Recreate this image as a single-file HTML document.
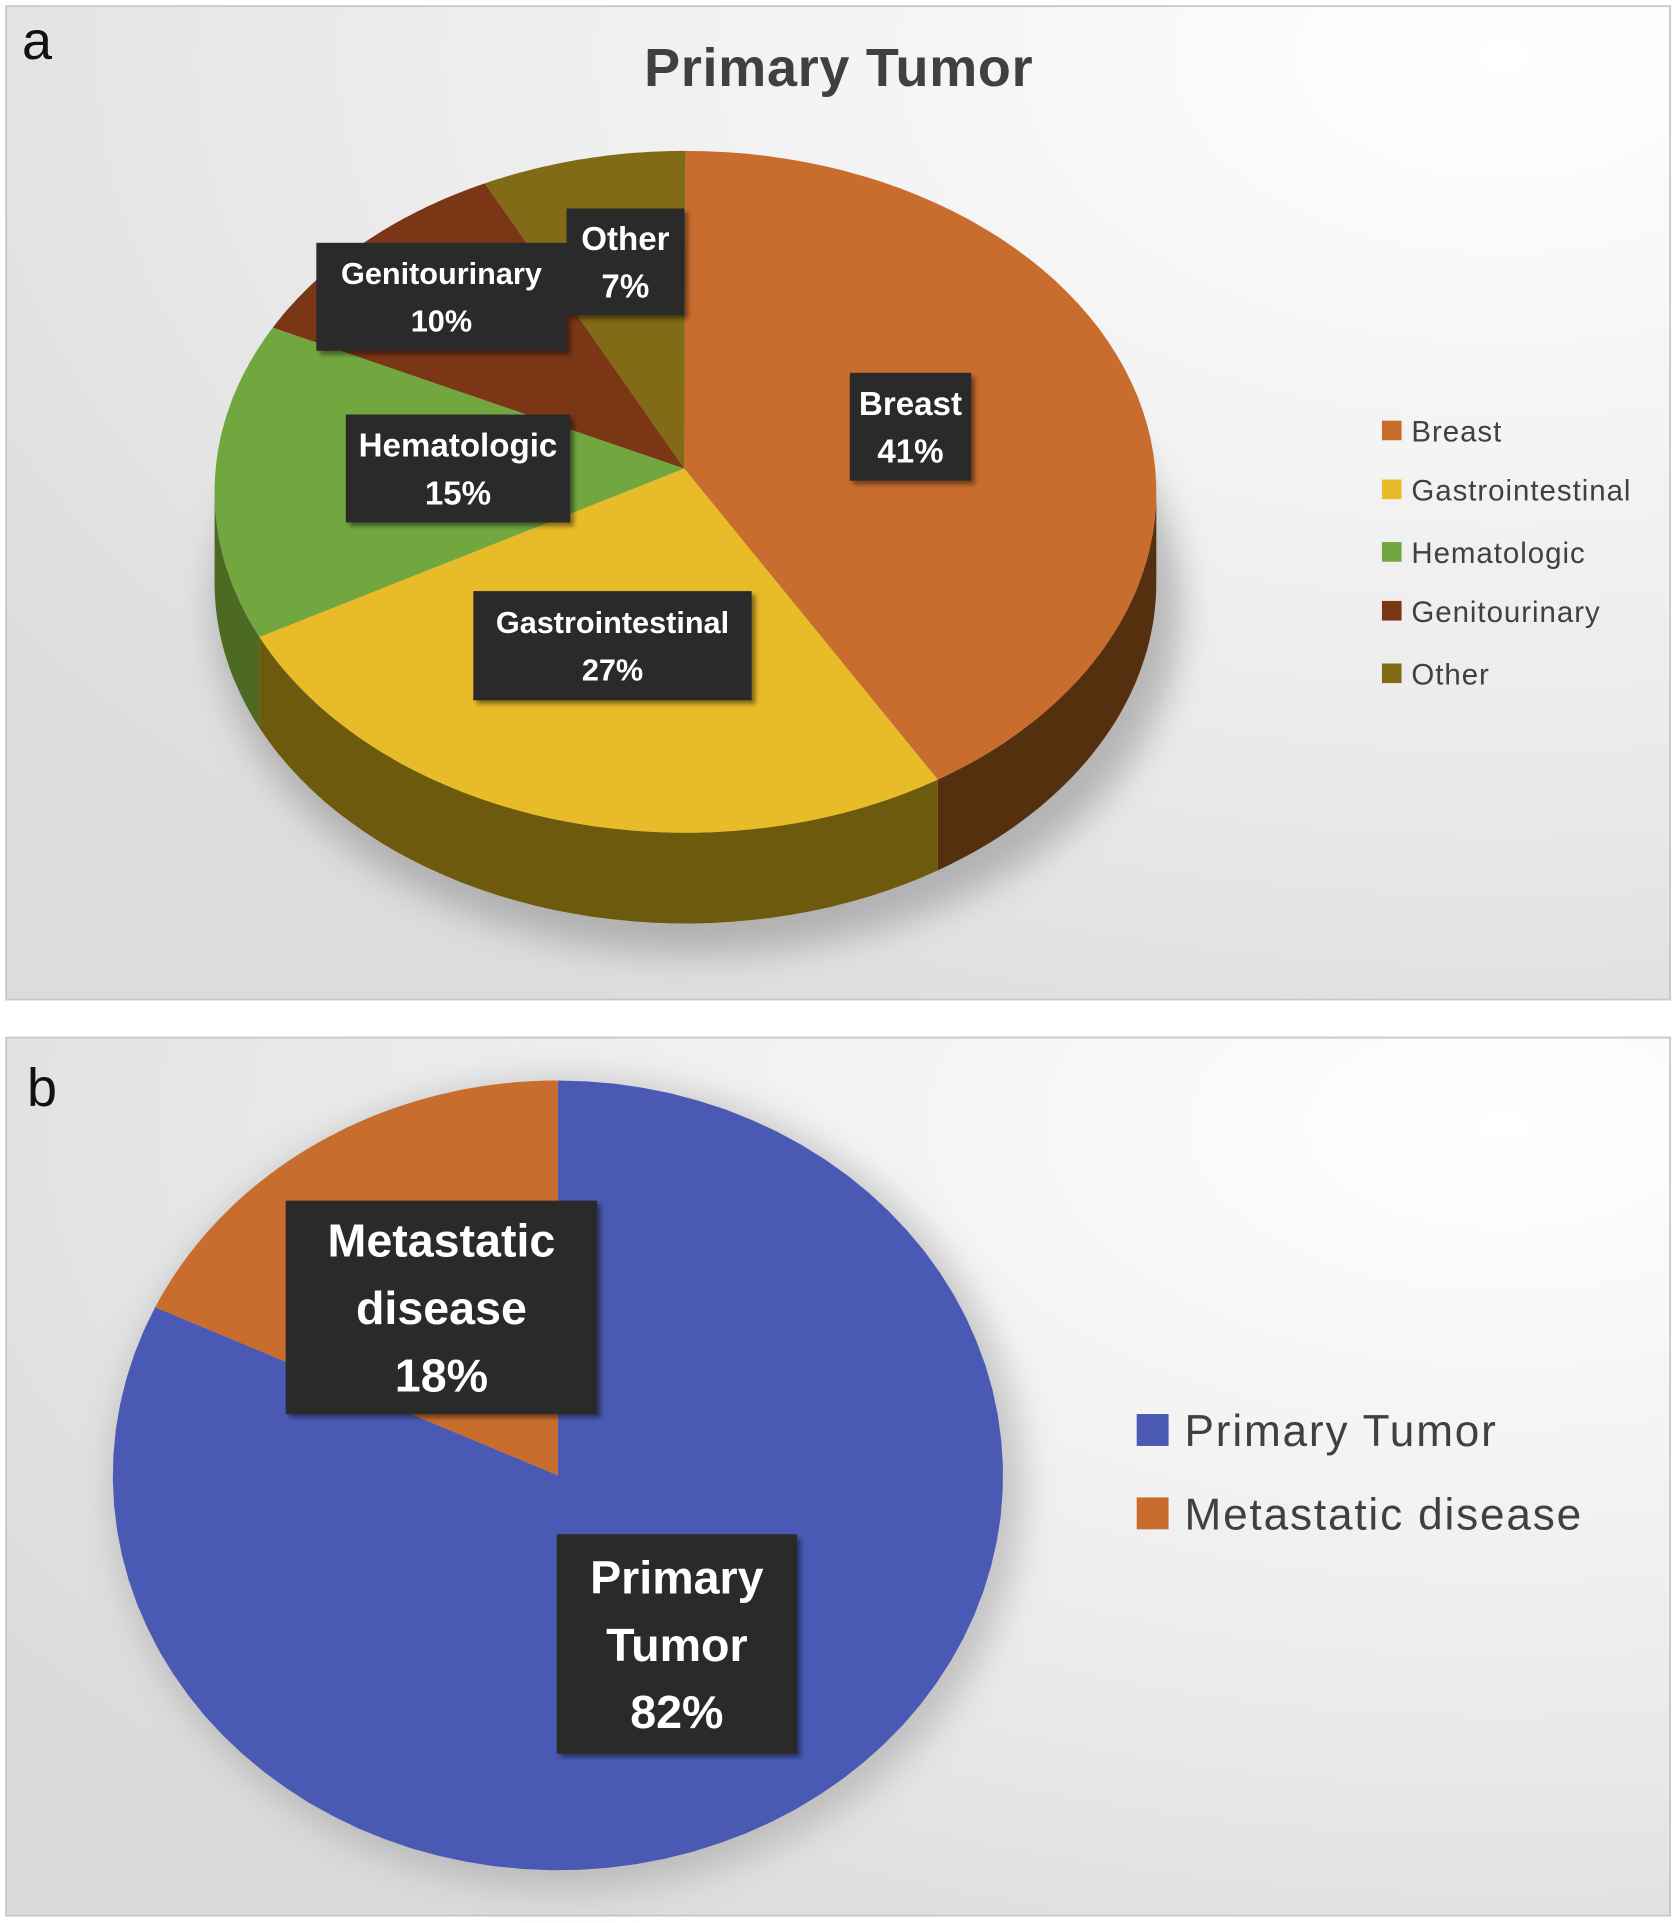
<!DOCTYPE html>
<html><head><meta charset="utf-8"><style>
html,body{margin:0;padding:0;background:#fff;}
svg{display:block;}
text{font-family:"Liberation Sans",sans-serif;}
</style></head><body>
<svg id="root" width="1675" height="1923" viewBox="0 0 1366 1568" preserveAspectRatio="none" xmlns="http://www.w3.org/2000/svg">
<defs>
<radialGradient id="bgA" cx="0.9" cy="0.05" r="1.1">
<stop offset="0" stop-color="#ffffff"/><stop offset="0.6" stop-color="#ececec"/><stop offset="1" stop-color="#dcdcdc"/></radialGradient>
<radialGradient id="bgB" cx="0.9" cy="0.1" r="1.1">
<stop offset="0" stop-color="#ffffff"/><stop offset="0.6" stop-color="#ebebeb"/><stop offset="1" stop-color="#dadada"/></radialGradient>
<filter id="blur" x="-20%" y="-20%" width="140%" height="140%"><feGaussianBlur stdDeviation="14"/></filter>
<filter id="sh" x="-10%" y="-10%" width="130%" height="130%"><feDropShadow dx="3" dy="3" stdDeviation="2" flood-color="#000" flood-opacity="0.45"/></filter>
</defs>
<rect x="5" y="5" width="1357" height="810" fill="url(#bgA)" stroke="#c8c8c8" stroke-width="1.5"/>
<rect x="5" y="846" width="1357" height="716" fill="url(#bgB)" stroke="#c8c8c8" stroke-width="1.5"/>
<text x="18" y="48" font-size="44" fill="#111">a</text>
<text x="22" y="902" font-size="44" fill="#111">b</text>
<text x="684" y="70" font-size="44" font-weight="bold" fill="#404040" text-anchor="middle" letter-spacing="0.6">Primary Tumor</text>
<g id="pieA"></g>
<g id="pieB"></g>
<g id="legA"></g>
<g id="legB"></g>
</svg>
<script>
const catsA = ["Breast","Gastrointestinal","Hematologic","Genitourinary","Other"];
const valsA = [41,27,15,10,7];
const colsA = ["#c96d2e","#e8bb28","#72a73f","#7b3616","#826b17"];
const sideA = ["#55300f","#6e5a0c","#4c6a22","#4a200c","#55460c"];
const catsB = ["Primary Tumor","Metastatic disease"];
const valsB = [82,18];
const colsB = ["#4a5ab4","#c96d2e"];
const NS="http://www.w3.org/2000/svg";
function mk(tag,attrs,parent){const e=document.createElementNS(NS,tag);for(const k in attrs)e.setAttribute(k,attrs[k]);parent.appendChild(e);return e;}
function pt(cx,cy,rx,ry,th){return [cx+rx*Math.sin(th),cy-ry*Math.cos(th)];}
const A={cx:559,cy:401,rx:384,ry:278,d:74,ax:558,ay:382};
const gA=document.getElementById('pieA');
const shadow=mk('ellipse',{cx:A.cx+10,cy:A.cy+A.d+20,rx:A.rx+10,ry:A.ry+5,fill:'#8a8a8a',opacity:'0.55',filter:'url(#blur)'},gA);


const totA=valsA.reduce((a,b)=>a+b,0);
let acc=0;
const angs=valsA.map(v=>{const s=acc/totA*2*Math.PI;acc+=v;return [s,acc/totA*2*Math.PI];});
angs.forEach((a,i)=>{
  const s=Math.max(a[0],Math.PI/2), e=Math.min(a[1],1.5*Math.PI);
  if(e<=s)return;
  let top=[],bot=[];
  for(let k=0;k<=40;k++){const t=s+(e-s)*k/40;const p=pt(A.cx,A.cy,A.rx,A.ry,t);top.push(p);bot.unshift([p[0],p[1]+A.d]);}
  const d='M'+top.concat(bot).map(p=>p[0].toFixed(1)+','+p[1].toFixed(1)).join(' L')+' Z';
  const p=mk('path',{d:d,fill:sideA[i]},gA);
  
  
});
angs.forEach((a,i)=>{
  let pts=[[A.ax,A.ay]];
  for(let k=0;k<=60;k++){pts.push(pt(A.cx,A.cy,A.rx,A.ry,a[0]+(a[1]-a[0])*k/60));}
  const d='M'+pts.map(p=>p[0].toFixed(1)+','+p[1].toFixed(1)).join(' L')+' Z';
  const p=mk('path',{d:d,fill:colsA[i]},gA);
  
  
});
function label(g,x,y,w,h,lines,fs,lh,name){
  const grp=mk('g',{},g);
  
  
  mk('rect',{x:x,y:y,width:w,height:h,fill:'#2a2a2a',filter:'url(#sh)'},grp);
  const n=lines.length, start=y+h/2-(n-1)*lh/2+fs*0.36;
  lines.forEach((l,k)=>{const t=mk('text',{x:x+w/2,y:start+k*lh,'font-size':fs,'font-weight':'bold',fill:'#fff','text-anchor':'middle'},grp);t.textContent=l;});
}
const boxA=[[693,304,99,88],[386,482,227,89],[282,338,183,88],[258,198,204,88],[462,170,96,87]];
catsA.forEach((c,i)=>label(gA,boxA[i][0],boxA[i][1],boxA[i][2],boxA[i][3],[c,valsA[i]+'%'],c.length>12?25:27,39,'data-label-'+c.toLowerCase()));
const lA=document.getElementById('legA');
const legY=[351,399,450,498,549];
catsA.forEach((c,i)=>{
  const r=mk('rect',{x:1127,y:legY[i]-8,width:16,height:16,fill:colsA[i]},lA);
  
  
  const t=mk('text',{x:1151,y:legY[i]+9,'font-size':24,fill:'#404040','letter-spacing':'0.8'},lA);t.textContent=c;
  
  
});
const B={cx:455,cy:1203,rx:363,ry:322};
const gB=document.getElementById('pieB');
const shB=mk('ellipse',{cx:B.cx+8,cy:B.cy+8,rx:B.rx+8,ry:B.ry+8,fill:'#9a9a9a',opacity:'0.5',filter:'url(#blur)'},gB);


const totB=valsB.reduce((a,b)=>a+b,0);
let accB=0;
valsB.forEach((v,i)=>{
  const s=accB/totB*2*Math.PI;accB+=v;const e=accB/totB*2*Math.PI;
  let pts=[[B.cx,B.cy]];
  for(let k=0;k<=80;k++)pts.push(pt(B.cx,B.cy,B.rx,B.ry,s+(e-s)*k/80));
  const p=mk('path',{d:'M'+pts.map(q=>q[0].toFixed(1)+','+q[1].toFixed(1)).join(' L')+' Z',fill:colsB[i]},gB);
  
  
});
label(gB,454,1251,196,179,['Primary','Tumor',valsB[0]+'%'],38,55,'data-label-primary-tumor');
label(gB,233,979,254,174,['Metastatic','disease',valsB[1]+'%'],38,55,'data-label-metastatic-disease');
const lB=document.getElementById('legB');
const legYB=[1166,1234];
catsB.forEach((c,i)=>{
  const r=mk('rect',{x:927,y:legYB[i]-13,width:26,height:26,fill:colsB[i]},lB);
  
  
  const t=mk('text',{x:966,y:legYB[i]+13,'font-size':36,fill:'#404040','letter-spacing':'1.5'},lB);t.textContent=c;
  
  
});
</script>
</body></html>
